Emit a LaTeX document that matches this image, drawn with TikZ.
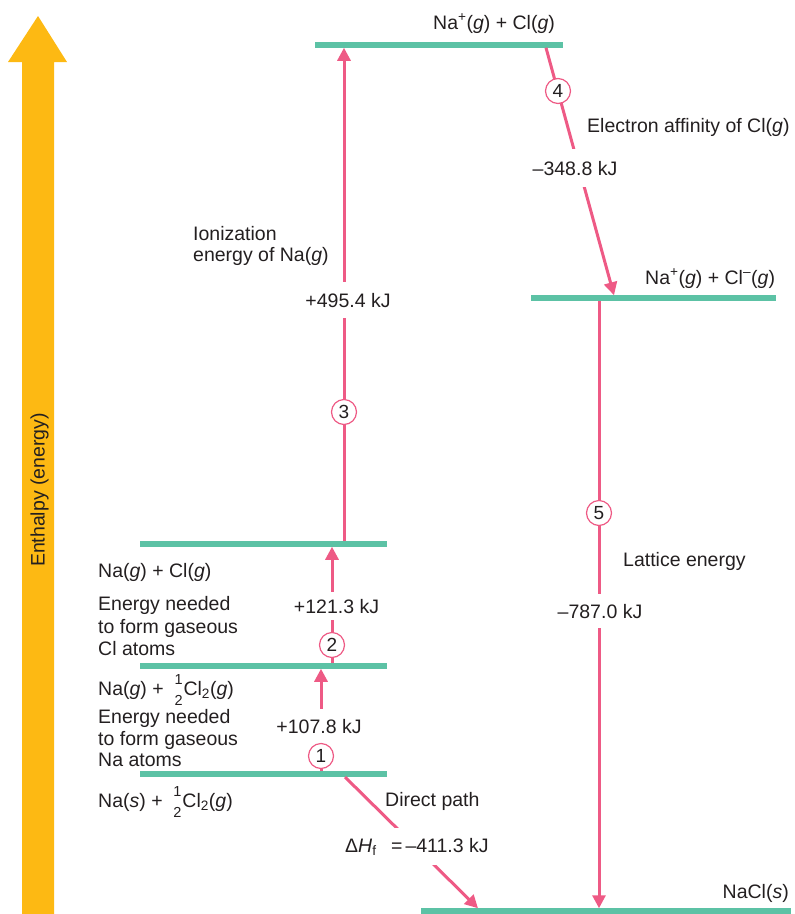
\documentclass[tikz,border=0pt]{standalone}
\usepackage{fontspec}
\setmainfont{Liberation Sans}
\usetikzlibrary{arrows.meta}
\definecolor{pinkc}{HTML}{EE5A85}
\definecolor{greenc}{HTML}{5CC2A5}
\definecolor{orangec}{HTML}{FDB913}
\definecolor{txt}{HTML}{231F20}
\newcommand\halfstk{\kern1pt\rlap{\raisebox{10.5pt}{\fontsize{14.5}{14.5}\selectfont 1}}\raisebox{-10pt}{\fontsize{14.5}{14.5}\selectfont 2}\kern1pt}
\begin{document}
\begin{tikzpicture}[x=1pt,y=-1pt,
  font=\fontsize{19.5}{23}\selectfont, text=txt,
  level/.style={draw=greenc, line width=5.5pt},
  trans/.style={draw=pinkc, line width=3pt, -{Triangle[width=13pt,length=13pt]}},
  num/.style={circle, draw=pinkc, fill=white, line width=1.2pt, minimum size=25pt, inner sep=0pt, font=\fontsize{19}{19}\selectfont},
  lbl/.style={anchor=base west, inner sep=0pt},
  gap/.style={anchor=base, fill=white, inner xsep=1pt}]
\useasboundingbox (0,0) rectangle (795,914);

% enthalpy arrow
\fill[orangec] (22,914) -- (22,62) -- (8,62) -- (38,16) -- (67,62) -- (54,62) -- (54,914) -- cycle;
\node[rotate=90, inner sep=0pt] (ylab) at (39.5,490) {Enthalpy (energy)};

% levels
\coordinate (TopA) at (315,45);   \coordinate (TopB) at (563,45);
\coordinate (IonA) at (531,298);  \coordinate (IonB) at (776,298);
\coordinate (GasA) at (140,544);  \coordinate (GasB) at (387,544);
\coordinate (NagA) at (140,666);  \coordinate (NagB) at (387,666);
\coordinate (NasA) at (140,774);  \coordinate (NasB) at (387,774);
\coordinate (SolA) at (421,911);  \coordinate (SolB) at (791,911);
\foreach \a/\b in {TopA/TopB,IonA/IonB,GasA/GasB,NagA/NagB,NasA/NasB,SolA/SolB}
  \draw[level] (\a) -- (\b);

% arrow end points
\coordinate (s1) at (321,771.25); \coordinate (e1) at (321,668.75);
\coordinate (s2) at (332,663.25); \coordinate (e2) at (332,546.75);
\coordinate (s3) at (344,541.25); \coordinate (e3) at (344,47.75);
\coordinate (s4) at (546,47.75);  \coordinate (e4) at (614,295.25);
\coordinate (s5) at (599,300.75); \coordinate (e5) at (599,908.25);
\coordinate (s6) at (345,777);    \coordinate (e6) at (478,908.25);

\draw[trans] (s1) -- (e1);
\draw[trans] (s2) -- (e2);
\draw[trans] (s3) -- (e3);
\draw[trans] (s4) -- (e4);
\draw[trans] (s5) -- (e5);
\draw[trans] (s6) -- (e6);

% values with gaps
\node[gap, inner ysep=10pt] (v1) at (319,733) {+107.8 kJ};
\node[gap, inner ysep=7pt] (v2) at (336.5,613) {+121.3 kJ};
\node[gap, inner ysep=10.5pt] (v3) at (348,307) {+495.4 kJ};
\node[gap, inner ysep=12pt] (v4) at (575,175) {–348.8 kJ};
\node[gap, inner ysep=10pt] (v5) at (600,618) {–787.0 kJ};
\node[lbl, fill=white, inner ysep=9.5pt] (v6) at (345,852) {Δ\textit{H}\textsubscript{f}\hspace{0.75em}=\hspace{0.15em}–411.3 kJ};

% step numbers
\node[num] (c1) at (321,756) {1};
\node[num] (c2) at (332,645) {2};
\node[num] (c3) at (344,412) {3};
\node[num] (c4) at (558,91) {4};
\node[num] (c5) at (599,513) {5};

% level labels
\node[lbl] (tTop) at (433,29) {Na\textsuperscript{+}(\textit{g}) + Cl(\textit{g})};
\node[lbl] (tIon) at (645,284) {Na\textsuperscript{+}(\textit{g}) + Cl\textsuperscript{–}(\textit{g})};
\node[lbl, anchor=base east] (tSol) at (789,898) {NaCl(\textit{s})};
\node[lbl] (tGas) at (98,577) {Na(\textit{g}) + Cl(\textit{g})};
\node[lbl] (tNag) at (98,695) {Na(\textit{g}) +\hspace{0.5em}\halfstk Cl\textsubscript{2}(\textit{g})};
\node[lbl] (tNas) at (98,807) {Na(\textit{s}) +\hspace{0.5em}\halfstk Cl\textsubscript{2}(\textit{g})};

% descriptions
\node[lbl] (dEA) at (587,132) {Electron affinity of Cl(\textit{g})};
\node[lbl] (dIE1) at (193,240) {Ionization};
\node[lbl] (dIE2) at (193,261) {energy of Na(\textit{g})};
\node[lbl] (dLE) at (623,566) {Lattice energy};
\node[lbl] (dDP) at (385,806) {Direct path};
\node[lbl] (dCl1) at (98,610) {Energy needed};
\node[lbl] (dCl2) at (98,633) {to form gaseous};
\node[lbl] (dCl3) at (98,655) {Cl atoms};
\node[lbl] (dNa1) at (98,723) {Energy needed};
\node[lbl] (dNa2) at (98,745) {to form gaseous};
\node[lbl] (dNa3) at (98,766) {Na atoms};
\end{tikzpicture}
\end{document}
